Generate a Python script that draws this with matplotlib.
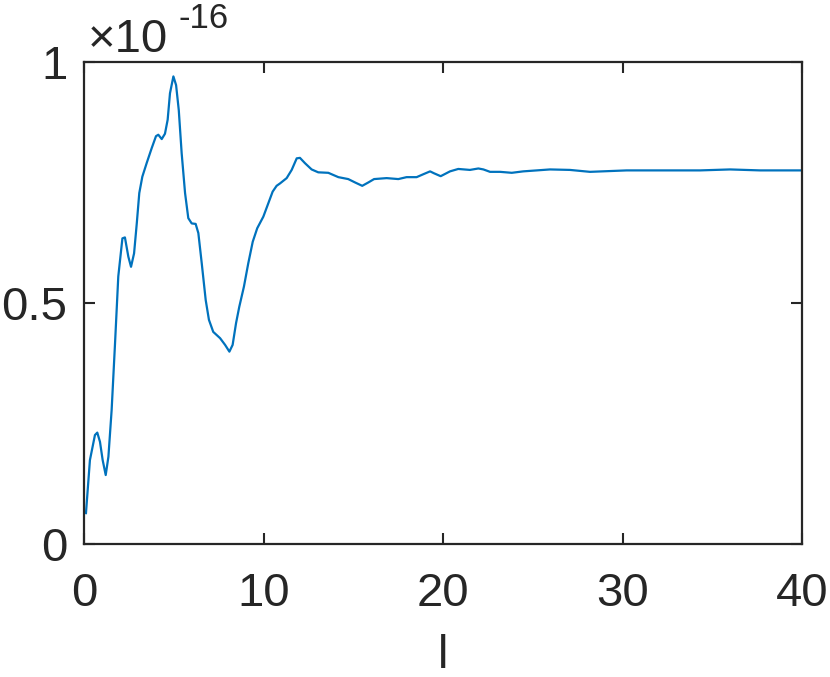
import matplotlib
matplotlib.use("Agg")
import matplotlib.pyplot as plt

# curve values, y in units of 1e-16
L_VALUES = [0.11, 0.33, 0.61, 0.74, 0.89, 1.04, 1.21, 1.36, 1.54, 1.73, 1.91, 2.14, 2.28,
            2.47, 2.62, 2.79, 2.94, 3.08, 3.25, 3.49, 3.77, 4.01, 4.14, 4.33, 4.51, 4.66,
            4.79, 4.98, 5.13, 5.28, 5.44, 5.63, 5.81, 6.00, 6.22, 6.37, 6.56, 6.78, 6.96,
            7.20, 7.58, 7.86, 8.10, 8.28, 8.47, 8.65, 8.91, 9.15, 9.40, 9.65, 9.99, 10.27,
            10.51, 10.73, 10.92, 11.29, 11.57, 11.85, 12.03, 12.31, 12.68, 13.05, 13.61,
            14.17, 14.72, 15.10, 15.50, 15.84, 16.16, 16.86, 17.51, 17.97, 18.53, 18.90,
            19.28, 19.50, 19.87, 20.39, 20.85, 21.50, 21.97, 22.25, 22.62, 23.18, 23.83,
            24.47, 25.22, 25.96, 27.07, 28.19, 30.23, 32.46, 34.32, 35.99, 37.66, 40.0]
Y_VALUES = [0.064, 0.174, 0.226, 0.231, 0.212, 0.174, 0.143, 0.181, 0.278, 0.417, 0.555,
            0.634, 0.636, 0.596, 0.575, 0.603, 0.665, 0.728, 0.762, 0.790, 0.821, 0.846,
            0.849, 0.840, 0.851, 0.880, 0.935, 0.970, 0.952, 0.900, 0.811, 0.728, 0.676,
            0.665, 0.664, 0.645, 0.582, 0.506, 0.465, 0.440, 0.427, 0.413, 0.399, 0.413,
            0.458, 0.492, 0.534, 0.582, 0.627, 0.655, 0.679, 0.707, 0.731, 0.743, 0.748,
            0.759, 0.776, 0.800, 0.801, 0.790, 0.777, 0.771, 0.770, 0.761, 0.757, 0.750,
            0.743, 0.750, 0.757, 0.759, 0.757, 0.761, 0.761, 0.767, 0.773, 0.769, 0.763,
            0.773, 0.778, 0.776, 0.779, 0.777, 0.772, 0.772, 0.770, 0.773, 0.775, 0.777,
            0.776, 0.772, 0.775, 0.775, 0.775, 0.777, 0.775, 0.775]
X_TICKS = [0, 10, 20, 30, 40]
Y_TICKS = [0, 0.5, 1]
Y_TICK_LABELS = ["0", "0.5", "1"]
EXPONENT = "-16"

plt.rcParams["font.family"] = ["Liberation Sans", "DejaVu Sans"]

TEXT = "#262626"

fig = plt.figure(figsize=(8.3, 6.77), dpi=100)
ax = fig.add_axes([0.1012, 0.1965, 0.8651, 0.712])

ax.plot(L_VALUES, Y_VALUES, color="#0072BD", linewidth=1.6)

ax.set_xlim(0, 40)
ax.set_ylim(0, 1)
ax.set_xticks(X_TICKS)
ax.set_yticks(Y_TICKS)
ax.set_yticklabels(Y_TICK_LABELS)
ax.tick_params(direction="in", length=8, width=1.5, colors=TEXT, labelsize=34,
               top=True, right=True)
ax.tick_params(axis="x", pad=20)
ax.tick_params(axis="y", pad=12)
for s in ax.spines.values():
    s.set_linewidth(1.6)
    s.set_color(TEXT)

ax.set_xlabel("l", fontsize=34, color=TEXT, labelpad=13)

# exponent label (MATLAB style, above the y axis)
ax.text(0.005, 1.021, "\u00d710", transform=ax.transAxes, fontsize=34, color=TEXT,
        ha="left", va="baseline")
ax.text(0.131, 1.07, EXPONENT, transform=ax.transAxes, fontsize=25, color=TEXT,
        ha="left", va="baseline")

fig.savefig("out.png", dpi=100)
